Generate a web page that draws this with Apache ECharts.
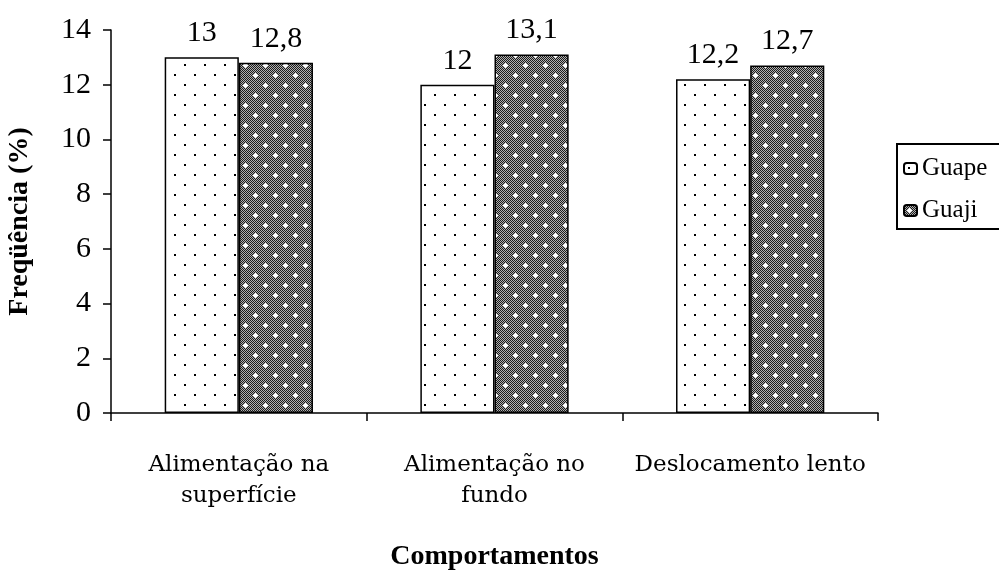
<!DOCTYPE html>
<html>
<head>
<meta charset="utf-8">
<script src="https://cdn.jsdelivr.net/npm/echarts@6/dist/echarts.min.js"></script>
<style>
html,body{margin:0;padding:0;background:#fff;}
#chart{width:999px;height:574px;}
</style>
</head>
<body>
<div id="chart"></div>
<script>
var categories = ['Alimentação na\nsuperfície', 'Alimentação no\nfundo', 'Deslocamento lento'];
var seriesNames = ['Guape', 'Guaji'];
var guapeValues = [13, 12, 12.2];
var guajiValues = [12.8, 13.1, 12.7];
var yTicks = {min: 0, max: 14, interval: 2};

function makeDots() {
  var c = document.createElement('canvas');
  c.width = 20; c.height = 20;
  var g = c.getContext('2d');
  g.fillStyle = '#ffffff'; g.fillRect(0, 0, 20, 20);
  g.fillStyle = '#000000';
  g.fillRect(4, 4, 2, 2);
  g.fillRect(14, 14, 2, 2);
  return c;
}
function makeChecker() {
  var c = document.createElement('canvas');
  c.width = 20; c.height = 20;
  var g = c.getContext('2d');
  g.fillStyle = '#b0b0b0'; g.fillRect(0, 0, 20, 20);
  g.fillStyle = '#1a1a1a';
  for (var x = 0; x < 20; x++) for (var y = 0; y < 20; y++) {
    if ((x + y) % 2 === 0) g.fillRect(x, y, 1, 1);
  }
  g.fillStyle = '#ffffff';
  [[5, 5], [15, 15]].forEach(function (p) {
    g.fillRect(p[0] - 1, p[1] - 1, 3, 3);
    g.fillRect(p[0] - 2, p[1], 5, 1);
    g.fillRect(p[0], p[1] - 2, 1, 5);
  });
  return c;
}
var dots = makeDots();
var checker = makeChecker();
var serif = 'Liberation Serif';
var wide = 'DejaVu Serif';

function fmt(p) { return String(p.value).replace('.', ','); }

var chart = echarts.init(document.getElementById('chart'));
chart.setOption({
  backgroundColor: '#ffffff',
  animation: false,
  textStyle: {fontFamily: serif, color: '#000'},
  legend: {
    orient: 'vertical',
    left: 897, top: 144,
    itemWidth: 13, itemHeight: 11, itemGap: 17,
    padding: [12, 150, 6, 6],
    borderColor: '#000', borderWidth: 2,
    textStyle: {fontFamily: serif, fontSize: 25, color: '#000'},
    data: seriesNames
  },
  grid: {left: 111, right: 121, top: 30, bottom: 161, containLabel: false, outerBoundsMode: 'none'},
  xAxis: {
    type: 'category',
    data: categories,
    name: 'Comportamentos',
    nameLocation: 'middle',
    nameGap: 130,
    nameTextStyle: {fontFamily: serif, fontSize: 28, fontWeight: 'bold', color: '#000'},
    axisLine: {lineStyle: {color: '#000', width: 1.5}},
    axisTick: {show: true, length: 8, lineStyle: {color: '#000', width: 1.5}},
    axisLabel: {interval: 0, fontFamily: wide, fontSize: 23, color: '#000', margin: 37, lineHeight: 31}
  },
  yAxis: {
    type: 'value',
    min: yTicks.min, max: yTicks.max, interval: yTicks.interval,
    name: 'Freqüência (%)',
    nameLocation: 'middle',
    nameGap: 77,
    nameTextStyle: {fontFamily: serif, fontSize: 28, fontWeight: 'bold', color: '#000'},
    axisLine: {show: true, lineStyle: {color: '#000', width: 1.5}},
    axisTick: {show: true, length: 8, lineStyle: {color: '#000', width: 1.5}},
    axisLabel: {fontFamily: serif, fontSize: 30, color: '#000', margin: 20},
    splitLine: {show: false}
  },
  series: [
    {
      name: seriesNames[0], type: 'bar', data: guapeValues,
      barGap: '0%', barCategoryGap: '42%',
      itemStyle: {color: {image: dots, repeat: 'repeat'}, borderColor: '#000', borderWidth: 1.5},
      label: {show: true, position: 'top', distance: 9, fontFamily: serif, fontSize: 30, color: '#000', formatter: fmt}
    },
    {
      name: seriesNames[1], type: 'bar', data: guajiValues,
      barGap: '0%', barCategoryGap: '42%',
      itemStyle: {color: {image: checker, repeat: 'repeat'}, borderColor: '#000', borderWidth: 1.5},
      label: {show: true, position: 'top', distance: 9, fontFamily: serif, fontSize: 30, color: '#000', formatter: fmt}
    }
  ]
});
</script>
</body>
</html>
